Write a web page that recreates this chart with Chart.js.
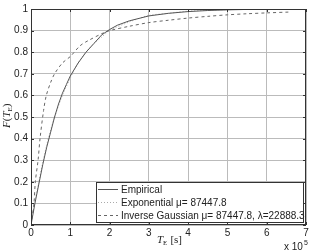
<!DOCTYPE html>
<html>
<head>
<meta charset="utf-8">
<script src="https://cdn.jsdelivr.net/npm/chart.js@4/dist/chart.umd.min.js"></script>
<style>
  html, body { margin: 0; padding: 0; background: #fff; }
  #wrap { width: 312px; height: 252px; }
</style>
</head>
<body>
<div id="wrap"><canvas id="cdfChart" width="312" height="252"></canvas></div>
<script>
// T_E in units of 10^5 s
const empX = [0, 0.1, 0.2, 0.3, 0.4, 0.5, 0.6, 0.7, 0.8, 0.9, 1.0, 1.2, 1.4, 1.6, 1.8, 2.0, 2.2, 2.5, 3.0, 3.5, 4.0, 4.5, 5.0, 5.5, 6.0, 6.6];
const empY = [0, 0.10, 0.19, 0.28, 0.36, 0.43, 0.50, 0.56, 0.61, 0.65, 0.69, 0.75, 0.80, 0.84, 0.88, 0.905, 0.925, 0.945, 0.968, 0.98, 0.988, 0.993, 0.996, 0.998, 0.999, 1.0];

const expX = [0, 0.1, 0.2, 0.3, 0.4, 0.5, 0.6, 0.8, 1.0, 1.2, 1.4, 1.6, 1.8, 2.0, 2.5, 3.0, 3.5, 4.0, 5.0, 6.0, 6.6];
const expY = [0, 0.11, 0.20, 0.29, 0.37, 0.44, 0.50, 0.60, 0.68, 0.75, 0.80, 0.84, 0.87, 0.90, 0.94, 0.97, 0.98, 0.99, 0.997, 0.999, 1.0];

const igX = [0, 0.03, 0.076, 0.11, 0.18, 0.23, 0.32, 0.39, 0.5, 0.6, 0.8, 1.0, 1.25, 1.45, 1.85, 2.0, 2.5, 3.0, 3.5, 4.0, 4.5, 5.0, 5.5, 6.0, 6.6];
const igY = [0, 0.04, 0.10, 0.20, 0.30, 0.40, 0.53, 0.60, 0.66, 0.70, 0.75, 0.78, 0.83, 0.853, 0.89, 0.90, 0.92, 0.937, 0.948, 0.958, 0.966, 0.973, 0.978, 0.982, 0.986];

const seriesLabels = ['Empirical', 'Exponential \u03bc= 87447.8', 'Inverse Gaussian \u03bc= 87447.8, \u03bb=22888.3'];
const xTicks = [0, 1, 2, 3, 4, 5, 6, 7];
const yTicks = [0, 0.1, 0.2, 0.3, 0.4, 0.5, 0.6, 0.7, 0.8, 0.9, 1];

function toPoints(xs, ys) {
    return xs.map((x, i) => ({ x: x, y: ys[i] }));
}

const sansFont = '"Liberation Sans", Arial, sans-serif';
const serifFont = '"Liberation Serif", "DejaVu Serif", serif';

// frame, inward ticks, axis titles, exponent and legend
const decorPlugin = {
    id: 'decor',
    afterDraw(chart) {
        const ctx = chart.ctx;
        const a = chart.chartArea;
        const xs = chart.scales.x;
        const ys = chart.scales.y;
        ctx.save();
        ctx.strokeStyle = '#333';
        ctx.lineWidth = 1;
        ctx.strokeRect(a.left + 0.5, a.top + 0.5, a.right - a.left - 1, a.bottom - a.top - 1);
        ctx.beginPath();
        xTicks.forEach(t => {
            const px = Math.round(xs.getPixelForValue(t)) + 0.5;
            ctx.moveTo(px, a.bottom); ctx.lineTo(px, a.bottom - 3);
            ctx.moveTo(px, a.top); ctx.lineTo(px, a.top + 3);
        });
        yTicks.forEach(t => {
            const py = Math.round(ys.getPixelForValue(t)) + 0.5;
            ctx.moveTo(a.left, py); ctx.lineTo(a.left + 3, py);
            ctx.moveTo(a.right, py); ctx.lineTo(a.right - 3, py);
        });
        ctx.stroke();

        // x title: T_E [s]
        ctx.fillStyle = '#222';
        ctx.textBaseline = 'alphabetic';
        let x0 = 157;
        const by = 243;
        ctx.font = 'italic 11px ' + serifFont;
        ctx.fillText('T', x0, by);
        x0 += ctx.measureText('T').width;
        ctx.font = '7px ' + serifFont;
        ctx.fillText('E', x0, by + 2);
        x0 += ctx.measureText('E').width + 3;
        ctx.font = '11px ' + serifFont;
        ctx.fillText('[s]', x0, by);

        // y title: F(T_E)
        ctx.save();
        ctx.translate(10, 128);
        ctx.rotate(-Math.PI / 2);
        let y0 = 0;
        ctx.font = 'italic 11px ' + serifFont;
        ctx.fillText('F', y0, 0);
        y0 += ctx.measureText('F').width;
        ctx.font = '11px ' + serifFont;
        ctx.fillText('(', y0, 0);
        y0 += ctx.measureText('(').width;
        ctx.font = 'italic 11px ' + serifFont;
        ctx.fillText('T', y0, 0);
        y0 += ctx.measureText('T').width;
        ctx.font = '7px ' + serifFont;
        ctx.fillText('E', y0, 2);
        y0 += ctx.measureText('E').width;
        ctx.font = '11px ' + serifFont;
        ctx.fillText(')', y0, 0);
        ctx.restore();

        // exponent
        ctx.font = '10px ' + sansFont;
        ctx.fillText('x 10', 284, 250);
        ctx.font = '7px ' + sansFont;
        ctx.fillText('5', 304, 245);

        // legend box
        const lx = 96, ly = 182, lw = 207, lh = 40;
        ctx.fillStyle = '#fff';
        ctx.fillRect(lx, ly, lw, lh);
        ctx.strokeStyle = '#333';
        ctx.lineWidth = 1;
        ctx.strokeRect(lx + 0.5, ly + 0.5, lw, lh);
        const rows = [189.5, 202.5, 215.5];
        chart.data.datasets.forEach((ds, i) => {
            ctx.beginPath();
            ctx.strokeStyle = ds.borderColor;
            ctx.lineWidth = ds.borderWidth;
            ctx.setLineDash(ds.borderDash || []);
            ctx.moveTo(98, rows[i]);
            ctx.lineTo(118, rows[i]);
            ctx.stroke();
            ctx.setLineDash([]);
            ctx.fillStyle = '#222';
            ctx.font = '10px ' + sansFont;
            ctx.textBaseline = 'middle';
            ctx.fillText(ds.label, 121, rows[i] + 0.5);
        });
        ctx.restore();
    }
};

const ctx = document.getElementById('cdfChart').getContext('2d');

window.chart = new Chart(ctx, {
    type: 'scatter',
    data: {
        datasets: [
            { label: seriesLabels[0], data: toPoints(empX, empY), borderColor: '#555', borderWidth: 1, showLine: true, pointRadius: 0, tension: 0 },
            { label: seriesLabels[1], data: toPoints(expX, expY), borderColor: '#aaa', borderWidth: 1, borderDash: [1, 2], showLine: true, pointRadius: 0, tension: 0.3 },
            { label: seriesLabels[2], data: toPoints(igX, igY), borderColor: '#666', borderWidth: 1, borderDash: [3, 3], showLine: true, pointRadius: 0, tension: 0.3 }
        ]
    },
    options: {
        responsive: false,
        animation: false,
        layout: { padding: { top: 8, right: 6, left: 0, bottom: 0 } },
        plugins: { legend: { display: false }, tooltip: { enabled: false } },
        scales: {
            x: {
                type: 'linear', min: 0, max: 7,
                afterFit(scale) { scale.height = 27; },
                afterBuildTicks(scale) { scale.ticks = xTicks.map(v => ({ value: v })); },
                ticks: { color: '#222', font: { family: sansFont, size: 10 }, padding: 2, maxRotation: 0 },
                grid: { color: '#bbb', borderDash: [1, 2], drawTicks: false, lineWidth: 1 },
                border: { display: false }
            },
            y: {
                type: 'linear', min: 0, max: 1,
                afterFit(scale) { scale.width = 31; },
                afterBuildTicks(scale) { scale.ticks = yTicks.map(v => ({ value: v })); },
                ticks: { color: '#222', font: { family: sansFont, size: 10 }, padding: 3, callback: v => String(Math.round(v * 10) / 10) },
                grid: { color: '#bbb', borderDash: [1, 2], drawTicks: false, lineWidth: 1 },
                border: { display: false }
            }
        }
    },
    plugins: [decorPlugin]
});
</script>
</body>
</html>
